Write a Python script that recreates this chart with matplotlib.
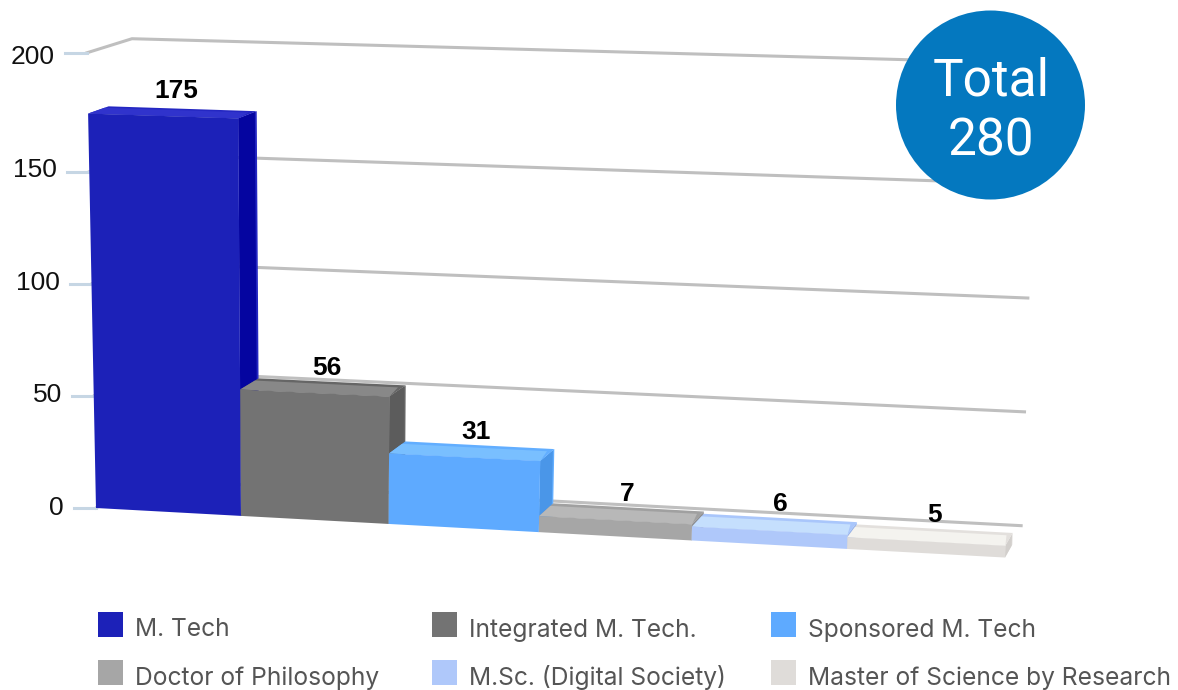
import matplotlib
matplotlib.use("Agg")
import matplotlib.pyplot as plt
from matplotlib.patches import Polygon, Rectangle, Circle

categories = ["M. Tech", "Integrated M. Tech.", "Sponsored M. Tech",
              "Doctor of Philosophy", "M.Sc. (Digital Society)",
              "Master of Science by Research"]
values = [175, 56, 31, 7, 6, 5]
axis_ticks = [0, 50, 100, 150, 200]
total = 280

front_colors = ["#1c21b8", "#737373", "#5eaaff", "#a6a6a6", "#afc8fa", "#dfdcd9"]
top_colors = ["#3033cc", "#888888", "#79bfff", "#b8b8b8", "#c5dffd", "#f4f3ef"]
side_colors = ["#0505a0", "#5c5c5c", "#4a96e8", "#8f8f8f", "#9cb6ea", "#d2cfcc"]
rim_colors = ["#2427c2", "#666666", "#62aeff", "#a0a0a0", "#a9c6fb", "#e3e0dd"]

WALL_DEPTH = 2.2


def project(u, v, d=0.0):
    # fake 3d: u = category position, v = value, d = depth, result in pixels
    xb = 96 + 143.7 * u + 1.3 * u ** 2
    h = 2.24 * v + 1 + 0.002 * max(v - 140, 0) ** 2
    lean = max(0.02 - 0.000091 * (xb - 96), -0.03)
    slope = 0.0545 - 0.00012 * v
    x = xb - lean * h + d * (20.5 - 0.0145 * (xb - 96))
    y = 509 - h + slope * (xb - 96) - d * (13 - 0.033 * v)
    y -= 0.003 * (xb - 96) * max(d - 1, 0)
    return x, y


fig = plt.figure(figsize=(11.78, 6.9), dpi=100)
ax = fig.add_axes([0, 0, 1, 1])
ax.set_xlim(0, 1178)
ax.set_ylim(690, 0)
ax.axis("off")

# grid on the back wall, with the little ticks at the front
for t in axis_ticks:
    x0, y0 = project(0, t)
    x1, y1 = project(0, t, WALL_DEPTH)
    x2, y2 = project(6, t, WALL_DEPTH)
    ax.plot([x0, x1, x2], [y0, y1, y2], color="#bfbfbf", lw=2.2, zorder=1,
            solid_joinstyle="miter")
    ax.plot([x0 - 22, x0], [y0, y0], color="#c6d6e4", lw=2.2, zorder=1)
    ax.text(x0 - 32, 508 - 2.255 * t, str(t), ha="right", va="center", fontsize=19,
            family="Liberation Sans", color="#111111", zorder=5)

# bars, left to right so each one covers the side of the previous
for i, v in enumerate(values):
    z = 2 + i
    fl, fr = project(i, 0), project(i + 1, 0)
    tl, tr = project(i, v), project(i + 1, v)
    bl, br = project(i, v, 1), project(i + 1, v, 1)
    bb = project(i + 1, 0, 1)
    il, ir = project(i, v, 0.8), project(i + 0.97, v, 0.8)
    jr = project(i + 1, v, 0.9)
    kb = project(i + 1, 0, 0.9)
    ax.add_patch(Polygon([tr, br, bb, fr], fc=rim_colors[i], ec="none", zorder=z))
    ax.add_patch(Polygon([tr, jr, kb, fr], fc=side_colors[i], ec="none", zorder=z))
    ax.add_patch(Polygon([tl, tr, br, bl], fc=rim_colors[i], ec="none", zorder=z))
    ax.add_patch(Polygon([tl, tr, ir, il], fc=top_colors[i], ec="none", zorder=z))
    ax.add_patch(Polygon([fl, fr, tr, tl], fc=front_colors[i], ec="none", zorder=z))
    lx, ly = project(i + 0.5, v, 1)
    ax.text(lx - max(6 - 1.5 * i, 0), ly - 13.5 - max(v - 60, 0) * 0.04, str(v),
            ha="center", va="center", fontsize=19, fontweight="bold",
            family="Liberation Sans", color="black", zorder=10)

# total badge
ax.add_patch(Circle((990.5, 105), 94.5, fc="#0478bf", ec="none", zorder=20))
ax.text(991, 95, "Total", ha="center", va="baseline", color="white", fontsize=37,
        family="Roboto", zorder=21)
ax.text(991, 156, str(total), ha="center", va="baseline", color="white", fontsize=37,
        family="Roboto", zorder=21)

# legend
legend_x = [98, 432, 771]
legend_y = [612, 660]
for i, name in enumerate(categories):
    x = legend_x[i % 3]
    y = legend_y[i // 3]
    ax.add_patch(Rectangle((x, y), 24.5, 25, fc=front_colors[i], ec="none"))
    ax.text(x + 37, y + 24.5, name, ha="left", va="baseline", fontsize=17.7,
            family="Inter", color="#555555")

fig.savefig("out.png", dpi=100)
plt.close(fig)
